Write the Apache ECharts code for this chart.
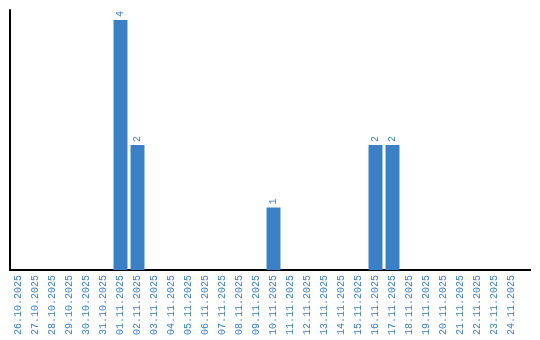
<!DOCTYPE html>
<html><head><meta charset="utf-8">
<script src="https://cdn.jsdelivr.net/npm/echarts@6/dist/echarts.min.js"></script>
<style>html,body{margin:0;padding:0;background:#fff}#c{width:540px;height:340px}</style>
</head><body><div id="c"></div>
<script>
const categories = ["26.10.2025","27.10.2025","28.10.2025","29.10.2025","30.10.2025","31.10.2025","01.11.2025","02.11.2025","03.11.2025","04.11.2025","05.11.2025","06.11.2025","07.11.2025","08.11.2025","09.11.2025","10.11.2025","11.11.2025","12.11.2025","13.11.2025","14.11.2025","15.11.2025","16.11.2025","17.11.2025","18.11.2025","19.11.2025","20.11.2025","21.11.2025","22.11.2025","23.11.2025","24.11.2025"];
const values = [0,0,0,0,0,0,4,2,0,0,0,0,0,0,0,1,0,0,0,0,0,2,2,0,0,0,0,0,0,0];
const chart = echarts.init(document.getElementById('c'), null, {renderer:'canvas'});
const blue = '#3b7fc4';
chart.setOption({
  animation:false,
  grid:{left:10,top:10,width:510,height:260,containLabel:false},
  xAxis:{type:'category',data:categories,
    axisLine:{lineStyle:{color:'#000',width:2}},
    axisTick:{show:false},
    axisLabel:{rotate:90,interval:0,color:blue,fontFamily:'Liberation Mono',fontSize:10,margin:5}},
  yAxis:{type:'value',min:0,max:4.16,
    axisLine:{show:true,lineStyle:{color:'#000',width:2}},
    axisTick:{show:false},axisLabel:{show:false},splitLine:{show:false}},
  graphic:[{type:'line',shape:{x1:520,y1:270,x2:531,y2:270},style:{stroke:'#000',lineWidth:2}}],
  series:[{type:'bar',data:values,barCategoryGap:'18%',
    itemStyle:{color:blue},
    label:{show:true,position:'top',rotate:90,align:'left',verticalAlign:'middle',distance:3,
      color:blue,fontFamily:'Liberation Mono',fontSize:10,
      formatter:p=>p.value>0?String(p.value):''}}]
});
</script></body></html>
